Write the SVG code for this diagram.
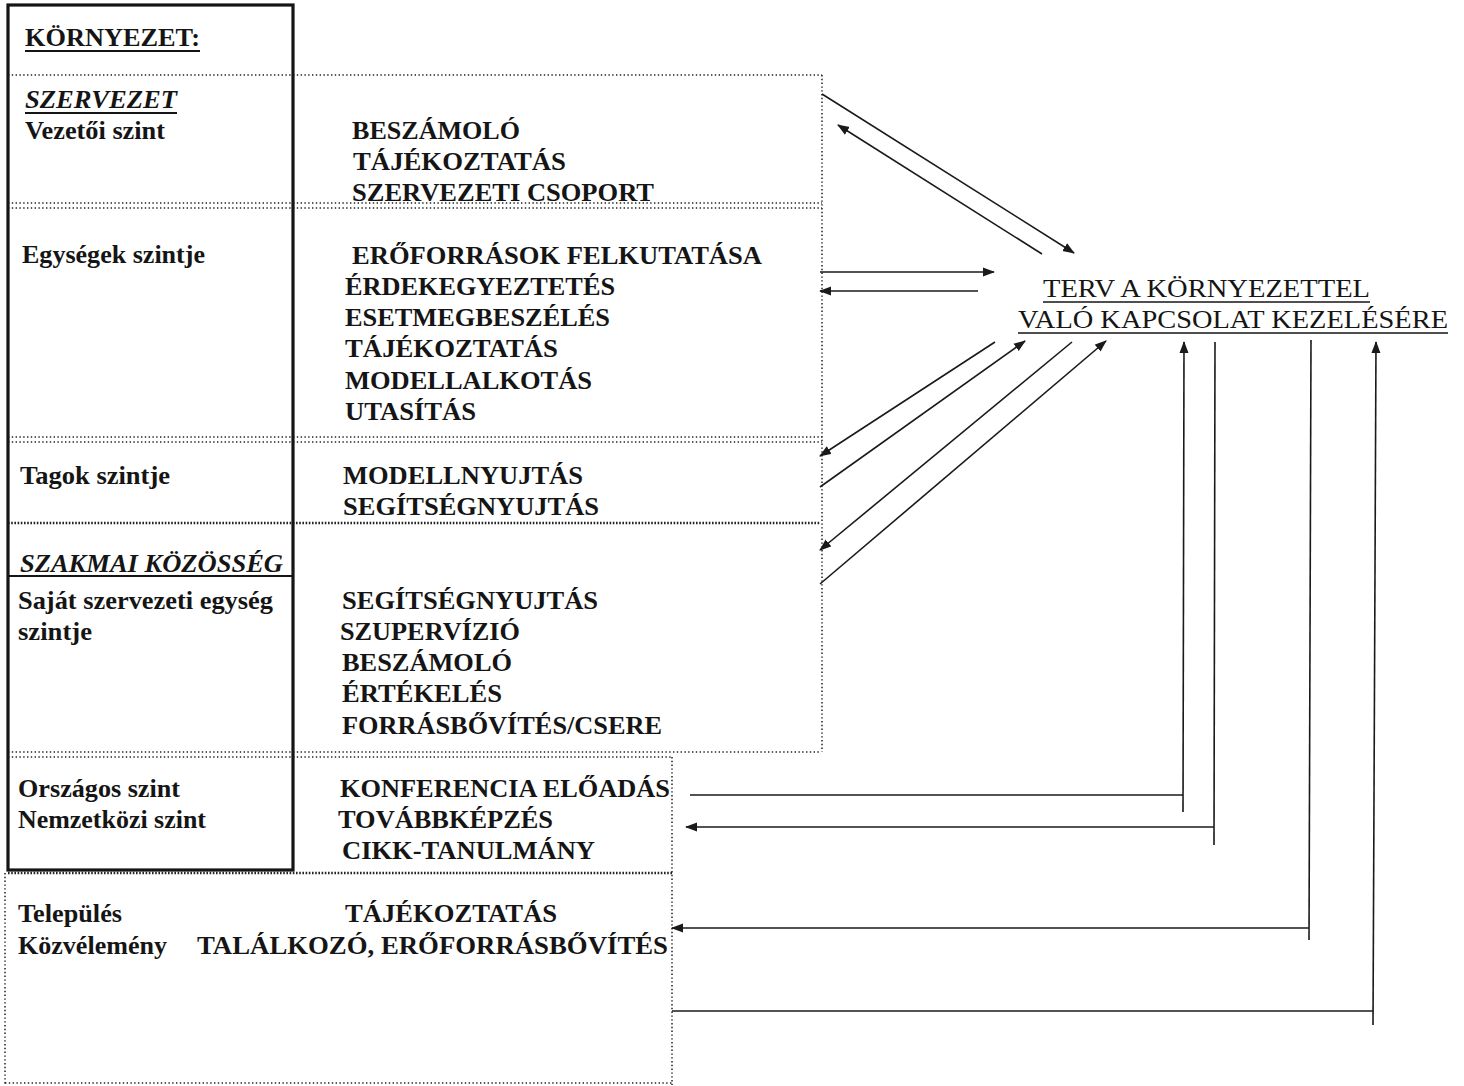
<svg xmlns="http://www.w3.org/2000/svg" width="1464" height="1086" viewBox="0 0 1464 1086">
<defs>
<marker id="ah" viewBox="0 0 12 10" refX="11" refY="5" markerWidth="12" markerHeight="10" markerUnits="userSpaceOnUse" orient="auto">
<path d="M0,0.5 L12,5 L0,9.5 z" fill="#1a1a1a"/>
</marker>
<style>
text{font-family:"Liberation Serif","Times New Roman",serif;fill:#151515}
.b{font-weight:bold;font-size:25px}
.bi{font-weight:bold;font-style:italic;font-size:25px}
.r{font-size:26px}
.dot{stroke:#222;stroke-width:1.5;stroke-dasharray:1.4 2.4;fill:none}
.dotk{stroke:#222;stroke-width:2.6;stroke-dasharray:1.6 1.6;fill:none}
.sol{stroke:#151515;fill:none}
.c{stroke:#1a1a1a;stroke-width:1.6;fill:none}
.ca{stroke:#1a1a1a;stroke-width:1.6;fill:none;marker-end:url(#ah)}
</style>
</defs>
<rect width="1464" height="1086" fill="#fff"/>

<g id="frame">
<line class="dot" x1="8" y1="75" x2="822" y2="75"/>
<line class="dot" x1="822" y1="75" x2="822" y2="752"/>
<line class="dot" x1="8" y1="203" x2="822" y2="203"/>
<line class="dot" x1="8" y1="208" x2="822" y2="208"/>
<line class="dot" x1="8" y1="437" x2="822" y2="437"/>
<line class="dot" x1="8" y1="442" x2="822" y2="442"/>
<line class="dotk" x1="8" y1="523" x2="820" y2="523"/>
<line class="sol" stroke-width="2" x1="8" y1="576" x2="293" y2="576"/>
<line class="dot" x1="8" y1="752" x2="820" y2="752"/>
<line class="dot" x1="8" y1="757" x2="672" y2="757"/>
<line class="dot" x1="672" y1="757" x2="672" y2="1085"/>
<line class="dotk" x1="8" y1="873" x2="672" y2="873"/>
<line class="dot" x1="5" y1="873" x2="5" y2="1085"/>
<line class="dot" x1="5" y1="1083" x2="672" y2="1083"/>
<rect class="sol" stroke-width="3.2" x="8" y="5" width="285" height="865"/>
</g>

<g id="kornyezet">
<text class="b" x="25" y="46" textLength="175" lengthAdjust="spacingAndGlyphs">KÖRNYEZET:</text>
<line class="sol" stroke-width="1.8" x1="25" y1="51" x2="200" y2="51"/>
</g>

<g id="szervezet-vezetoi">
<text class="bi" x="25" y="108" textLength="152" lengthAdjust="spacingAndGlyphs">SZERVEZET</text>
<line class="sol" stroke-width="1.8" x1="25" y1="113" x2="177" y2="113"/>
<text class="b" x="25" y="139" textLength="140" lengthAdjust="spacingAndGlyphs">Vezetői szint</text>
<text class="b" x="352" y="139" textLength="168" lengthAdjust="spacingAndGlyphs">BESZÁMOLÓ</text>
<text class="b" x="353" y="170" textLength="213" lengthAdjust="spacingAndGlyphs">TÁJÉKOZTATÁS</text>
<text class="b" x="352" y="201" textLength="302" lengthAdjust="spacingAndGlyphs">SZERVEZETI CSOPORT</text>
</g>

<g id="egysegek">
<text class="b" x="22" y="263" textLength="183" lengthAdjust="spacingAndGlyphs">Egységek szintje</text>
<text class="b" x="352" y="264" textLength="410" lengthAdjust="spacingAndGlyphs">ERŐFORRÁSOK FELKUTATÁSA</text>
<text class="b" x="345" y="295" textLength="270" lengthAdjust="spacingAndGlyphs">ÉRDEKEGYEZTETÉS</text>
<text class="b" x="345" y="326" textLength="265" lengthAdjust="spacingAndGlyphs">ESETMEGBESZÉLÉS</text>
<text class="b" x="345" y="357" textLength="213" lengthAdjust="spacingAndGlyphs">TÁJÉKOZTATÁS</text>
<text class="b" x="345" y="389" textLength="247" lengthAdjust="spacingAndGlyphs">MODELLALKOTÁS</text>
<text class="b" x="345" y="420" textLength="131" lengthAdjust="spacingAndGlyphs">UTASÍTÁS</text>
</g>

<g id="tagok">
<text class="b" x="20" y="484" textLength="150" lengthAdjust="spacingAndGlyphs">Tagok szintje</text>
<text class="b" x="343" y="484" textLength="240" lengthAdjust="spacingAndGlyphs">MODELLNYUJTÁS</text>
<text class="b" x="343" y="515" textLength="256" lengthAdjust="spacingAndGlyphs">SEGÍTSÉGNYUJTÁS</text>
</g>

<g id="szakmai">
<text class="bi" x="20" y="572" textLength="263" lengthAdjust="spacingAndGlyphs">SZAKMAI KÖZÖSSÉG</text>
<text class="b" x="18" y="609" textLength="255" lengthAdjust="spacingAndGlyphs">Saját szervezeti egység</text>
<text class="b" x="18" y="640" textLength="74" lengthAdjust="spacingAndGlyphs">szintje</text>
<text class="b" x="342" y="609" textLength="256" lengthAdjust="spacingAndGlyphs">SEGÍTSÉGNYUJTÁS</text>
<text class="b" x="340" y="640" textLength="180" lengthAdjust="spacingAndGlyphs">SZUPERVÍZIÓ</text>
<text class="b" x="342" y="671" textLength="170" lengthAdjust="spacingAndGlyphs">BESZÁMOLÓ</text>
<text class="b" x="342" y="702" textLength="160" lengthAdjust="spacingAndGlyphs">ÉRTÉKELÉS</text>
<text class="b" x="342" y="734" textLength="320" lengthAdjust="spacingAndGlyphs">FORRÁSBŐVÍTÉS/CSERE</text>
</g>

<g id="orszagos">
<text class="b" x="18" y="797" textLength="162" lengthAdjust="spacingAndGlyphs">Országos szint</text>
<text class="b" x="18" y="828" textLength="188" lengthAdjust="spacingAndGlyphs">Nemzetközi szint</text>
<text class="b" x="340" y="797" textLength="330" lengthAdjust="spacingAndGlyphs">KONFERENCIA ELŐADÁS</text>
<text class="b" x="338" y="828" textLength="215" lengthAdjust="spacingAndGlyphs">TOVÁBBKÉPZÉS</text>
<text class="b" x="342" y="859" textLength="253" lengthAdjust="spacingAndGlyphs">CIKK-TANULMÁNY</text>
</g>

<g id="telepules">
<text class="b" x="18" y="922" textLength="104" lengthAdjust="spacingAndGlyphs">Település</text>
<text class="b" x="18" y="954" textLength="149" lengthAdjust="spacingAndGlyphs">Közvélemény</text>
<text class="b" x="345" y="922" textLength="212" lengthAdjust="spacingAndGlyphs">TÁJÉKOZTATÁS</text>
<text class="b" x="197" y="954" textLength="471" lengthAdjust="spacingAndGlyphs">TALÁLKOZÓ, ERŐFORRÁSBŐVÍTÉS</text>
</g>

<g id="terv">
<text class="r" x="1043" y="297" textLength="327" lengthAdjust="spacingAndGlyphs">TERV A KÖRNYEZETTEL</text>
<line class="sol" stroke-width="1.6" x1="1043" y1="302" x2="1370" y2="302"/>
<text class="r" x="1018" y="328" textLength="430" lengthAdjust="spacingAndGlyphs">VALÓ KAPCSOLAT KEZELÉSÉRE</text>
<line class="sol" stroke-width="1.6" x1="1018" y1="333" x2="1448" y2="333"/>
</g>

<g id="connectors">
<line class="ca" x1="822" y1="94" x2="1074" y2="253"/>
<line class="ca" x1="1042" y1="254" x2="838" y2="125"/>
<line class="ca" x1="820" y1="272" x2="994" y2="272"/>
<line class="ca" x1="978" y1="291" x2="820" y2="291"/>
<line class="ca" x1="995" y1="342" x2="820" y2="456"/>
<line class="ca" x1="820" y1="487" x2="1025" y2="341"/>
<line class="ca" x1="1072" y1="342" x2="820" y2="550"/>
<line class="ca" x1="820" y1="584" x2="1106" y2="341"/>
<line class="c" x1="690" y1="795" x2="1183" y2="795"/>
<line class="ca" x1="1183" y1="812" x2="1184" y2="342"/>
<line class="c" x1="1215" y1="342" x2="1214" y2="845"/>
<line class="ca" x1="1214" y1="827" x2="686" y2="827"/>
<line class="c" x1="1311" y1="340" x2="1309" y2="940"/>
<line class="ca" x1="1309" y1="928" x2="672" y2="928"/>
<line class="c" x1="672" y1="1011" x2="1373" y2="1011"/>
<line class="ca" x1="1373" y1="1025" x2="1376" y2="342"/>
</g>
</svg>
